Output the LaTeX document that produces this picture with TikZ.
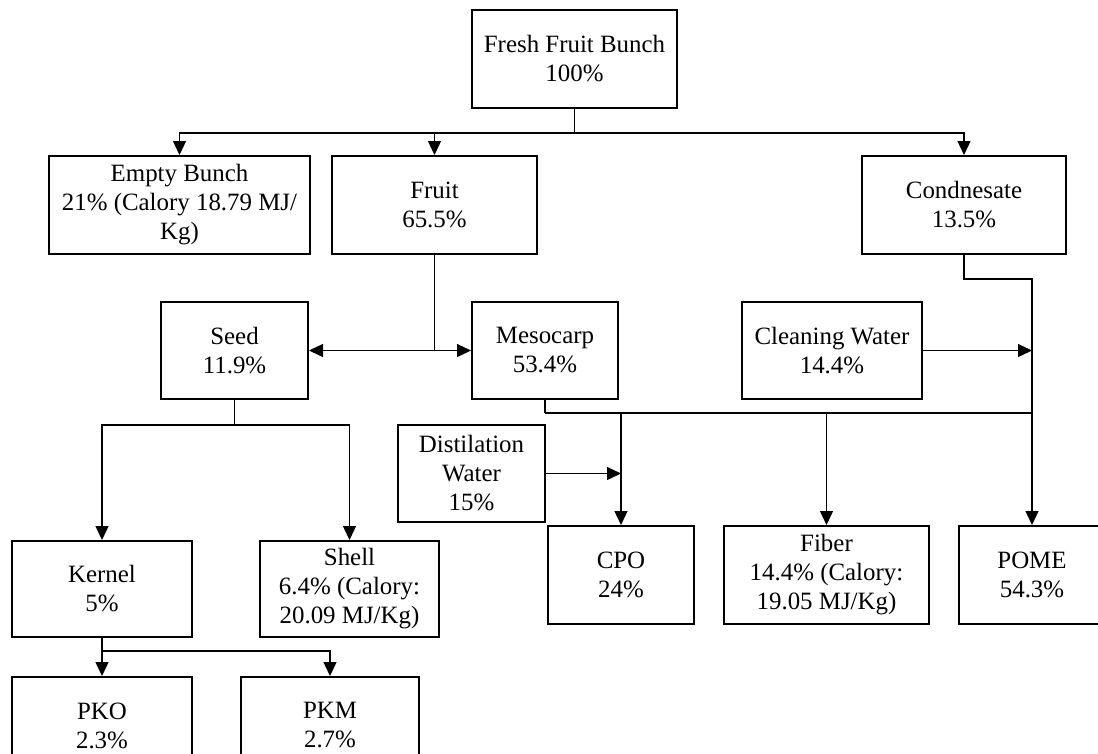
\documentclass[tikz,border=0pt]{standalone}
\usepackage{fontspec}
\setmainfont{Liberation Serif}
\usetikzlibrary{arrows.meta}
\begin{document}
\begin{tikzpicture}[x=1pt,y=-1pt,
    kasten/.style={draw,line width=2pt,align=center,inner sep=0pt,minimum height=98pt,
      font=\fontsize{24.9}{29}\selectfont},
    fluss/.style={line width=1.3pt},
    pfeil/.style={fluss,-{Triangle[length=14pt,width=13pt]}}]
  \useasboundingbox (0,0) rectangle (1098,753);
  % Kaesten
  \node [kasten,minimum width=205pt] (ffb) at (574.5,59) {Fresh Fruit Bunch\\100\%};
  \node [kasten,minimum width=261pt] (empty) at (179.5,205) {Empty Bunch\\21\% (Calory 18.79 MJ/\\Kg)};
  \node [kasten,minimum width=205pt] (fruit) at (434.5,205) {Fruit\\65.5\%};
  \node [kasten,minimum width=204pt] (cond) at (964,205) {Condnesate\\13.5\%};
  \node [kasten,minimum width=147pt,minimum height=97pt] (seed) at (234.5,350.5) {Seed\\11.9\%};
  \node [kasten,minimum width=146pt,minimum height=97pt] (meso) at (545,350.5) {Mesocarp\\53.4\%};
  \node [kasten,minimum width=180pt,minimum height=97pt] (clean) at (832,350.5) {Cleaning Water\\14.4\%};
  \node [kasten,minimum width=147pt,minimum height=97pt] (dist) at (471.5,473.5) {Distilation\\Water\\15\%};
  \node [kasten,minimum width=180pt,minimum height=96pt] (kernel) at (102,589) {Kernel\\5\%};
  \node [kasten,minimum width=179pt,minimum height=96pt] (shell) at (349.5,589) {Shell\\6.4\% (Calory:\\20.09 MJ/Kg)};
  \node [kasten,minimum width=146pt] (cpo) at (621,575) {CPO\\24\%};
  \node [kasten,minimum width=205pt] (fiber) at (826.5,575) {Fiber\\14.4\% (Calory:\\19.05 MJ/Kg)};
  \node [kasten,minimum width=146pt] (pome) at (1032,575) {POME\\54.3\%};
  \node [kasten,minimum width=180pt,minimum height=97pt] (pko) at (102,725.5) {PKO\\2.3\%};
  \node [kasten,minimum width=178pt,minimum height=97pt] (pkm) at (330,725.5) {PKM\\2.7\%};
  % Aufteilung Fresh Fruit Bunch
  \draw [fluss] (ffb.south) -- ++(0,24) coordinate (ffbsplit);
  \draw [pfeil] (ffbsplit) -| (empty.north);
  \draw [pfeil] (ffbsplit) -| (fruit.north);
  \draw [pfeil] (ffbsplit) -| (cond.north);
  % Fruit zu Seed und Mesocarp
  \draw [fluss] (fruit.south) -- (fruit.south |- seed.east) coordinate (fruitsplit);
  \draw [pfeil] (fruitsplit) -- (seed.east);
  \draw [pfeil] (fruitsplit) -- (meso.west);
  % Seed und Kernel
  \draw [fluss] (seed.south) -- ++(0,25) coordinate (seedsplit);
  \draw [pfeil] (seedsplit) -| (kernel.north);
  \draw [pfeil] (seedsplit) -| (shell.north);
  \draw [fluss] (kernel.south) -- ++(0,13) coordinate (kernelsplit);
  \draw [pfeil] (kernelsplit) -- (pko.north);
  \draw [pfeil] (kernelsplit) -| (pkm.north);
  % Mesocarp zu CPO, Fiber und POME
  \draw [fluss] (meso.south) -- ++(0,13) coordinate (mesosplit);
  \draw [fluss] (mesosplit) -- (mesosplit -| pome.north);
  \draw [pfeil] (mesosplit -| cpo.north) -- (cpo.north);
  \draw [pfeil] (mesosplit -| fiber.north) -- (fiber.north);
  \draw [pfeil] (cond.south) -- ++(0,24) -| (pome.north);
  % Wasserzufluesse
  \draw [pfeil] (clean.east) -- (clean.east -| pome.north);
  \draw [pfeil] (dist.east) -- (dist.east -| cpo.north);
\end{tikzpicture}
\end{document}
